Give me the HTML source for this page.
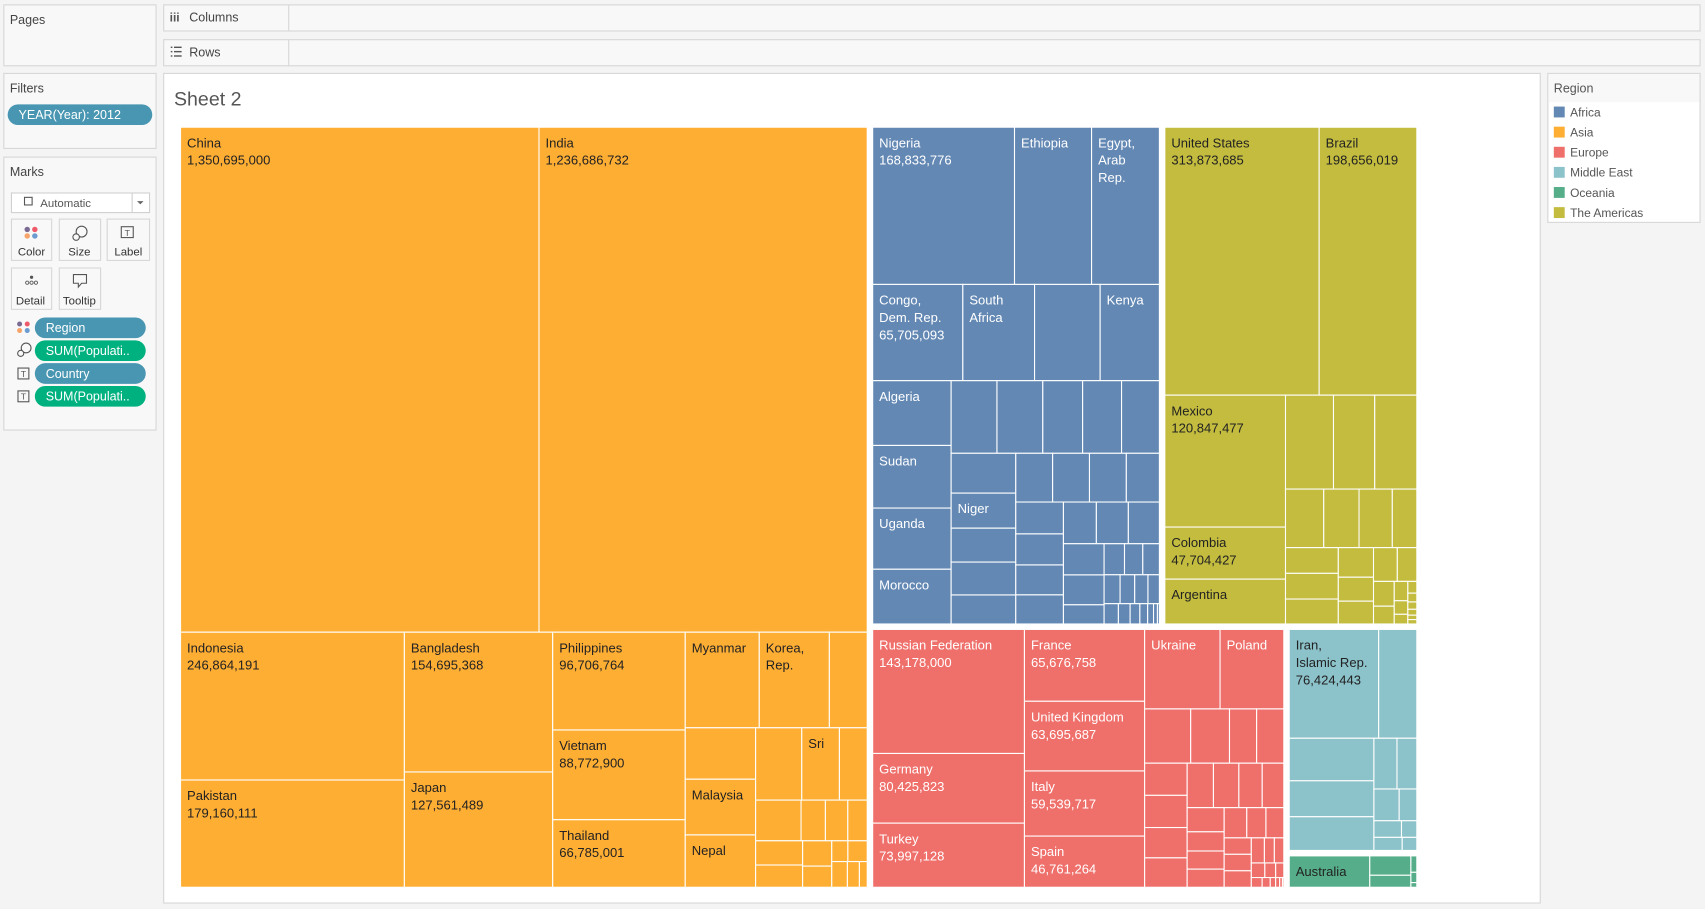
<!DOCTYPE html>
<html><head><meta charset="utf-8">
<style>
html,body{margin:0;padding:0;background:#f4f4f4;}
svg{display:block;font-family:"Liberation Sans","DejaVu Sans",sans-serif;}
</style></head>
<body>
<svg id="root" width="1705" height="909" viewBox="0 0 1568 836" xmlns="http://www.w3.org/2000/svg">
<rect x="0" y="0" width="1568" height="836" fill="#f4f4f4"/>
<g>
<rect x="3.5" y="4.5" width="140" height="56" fill="#f8f8f8" stroke="#d6d6d6"/>
<text x="9" y="22" font-size="11.5" fill="#444">Pages</text>
</g>
<g>
<rect x="150.5" y="4.5" width="1413" height="24" fill="#f8f8f8" stroke="#d6d6d6"/>
<line x1="265.5" y1="4.5" x2="265.5" y2="28.5" stroke="#d6d6d6"/>
<text x="156" y="20" font-size="11" fill="#555" font-weight="bold">iii</text>
<text x="174" y="20" font-size="11.5" fill="#444">Columns</text>
</g>
<g>
<rect x="150.5" y="36.5" width="1413" height="24" fill="#f8f8f8" stroke="#d6d6d6"/>
<line x1="265.5" y1="36.5" x2="265.5" y2="60.5" stroke="#d6d6d6"/>
<g stroke="#555" stroke-width="1.3"><line x1="157" y1="43.5" x2="158.5" y2="43.5"/><line x1="160" y1="43.5" x2="167" y2="43.5"/><line x1="157" y1="47.5" x2="158.5" y2="47.5"/><line x1="160" y1="47.5" x2="167" y2="47.5"/><line x1="157" y1="51.5" x2="158.5" y2="51.5"/><line x1="160" y1="51.5" x2="167" y2="51.5"/></g>
<text x="174" y="52" font-size="11.5" fill="#444">Rows</text>
</g>
<g>
<rect x="3.5" y="67.5" width="140" height="69" fill="#f8f8f8" stroke="#d6d6d6"/>
<text x="9" y="85" font-size="11.5" fill="#444">Filters</text>
<g>
<rect x="7" y="96" width="133" height="19" rx="9.5" fill="#4996b2"/>
<text x="17" y="109.5" font-size="11.5" fill="#fff">YEAR(Year): 2012</text>
</g>
</g>
<g>
<rect x="3.5" y="144.5" width="140" height="251" fill="#f8f8f8" stroke="#d6d6d6"/>
<text x="9" y="162" font-size="11.5" fill="#444">Marks</text>
<g>
<rect x="10.5" y="177.5" width="127" height="18" fill="#fff" stroke="#d0d0d0"/>
<line x1="121.5" y1="177.5" x2="121.5" y2="195.5" stroke="#d0d0d0"/>
<rect x="22.5" y="181.5" width="7" height="7" fill="none" stroke="#555"/>
<text x="37" y="190.5" font-size="10.5" fill="#555">Automatic</text>
<path d="M126 185 L132 185 L129 188 Z" fill="#666"/>
</g>
<g>
<rect x="10.5" y="201.5" width="37" height="38" fill="#f8f8f8" stroke="#d6d6d6"/>
<circle cx="25" cy="211" r="2.5" fill="#7b6b93"/><circle cx="32" cy="211" r="2.5" fill="#ef5a6a"/><circle cx="25" cy="217" r="2.5" fill="#f6a46a"/><circle cx="32" cy="217" r="2.5" fill="#6c9bd0"/>
<text x="29" y="235" font-size="10.5" fill="#333" text-anchor="middle">Color</text>
</g>
<g>
<rect x="54.5" y="201.5" width="38" height="38" fill="#f8f8f8" stroke="#d6d6d6"/>
<circle cx="75" cy="213" r="5" fill="none" stroke="#555"/><circle cx="70" cy="218" r="3" fill="#f8f8f8" stroke="#555"/>
<text x="73" y="235" font-size="10.5" fill="#333" text-anchor="middle">Size</text>
</g>
<g>
<rect x="98.5" y="201.5" width="39" height="38" fill="#f8f8f8" stroke="#d6d6d6"/>
<rect x="111.5" y="208.5" width="11" height="10" fill="none" stroke="#555"/>
<text x="117" y="217" font-size="8" fill="#555" text-anchor="middle">T</text>
<text x="118" y="235" font-size="10.5" fill="#333" text-anchor="middle">Label</text>
</g>
<g>
<rect x="10.5" y="246.5" width="37" height="38" fill="#f8f8f8" stroke="#d6d6d6"/>
<circle cx="29" cy="255" r="1.5" fill="#555"/><circle cx="25" cy="260" r="1.5" fill="none" stroke="#555" stroke-width=".8"/><circle cx="29" cy="260" r="1.5" fill="none" stroke="#555" stroke-width=".8"/><circle cx="33" cy="260" r="1.5" fill="none" stroke="#555" stroke-width=".8"/>
<text x="28" y="280" font-size="10.5" fill="#333" text-anchor="middle">Detail</text>
</g>
<g>
<rect x="54.5" y="246.5" width="38" height="38" fill="#f8f8f8" stroke="#d6d6d6"/>
<path d="M67.5 252.5 H79.5 V260.5 H75 L72 264 L72 260.5 H67.5 Z" fill="none" stroke="#555"/>
<text x="73" y="280" font-size="10.5" fill="#333" text-anchor="middle">Tooltip</text>
</g>
<g>
<circle cx="18" cy="298" r="2.3" fill="#7b6b93"/><circle cx="25" cy="298" r="2.3" fill="#ef5a6a"/><circle cx="18" cy="304" r="2.3" fill="#f6a46a"/><circle cx="25" cy="304" r="2.3" fill="#6c9bd0"/>
<rect x="32" y="292" width="102" height="19" rx="9.5" fill="#4996b2"/>
<text x="42" y="305.5" font-size="11.5" fill="#fff">Region</text>
</g>
<g>
<circle cx="24" cy="320" r="4.5" fill="none" stroke="#555"/><circle cx="19" cy="325" r="2.8" fill="#f8f8f8" stroke="#555"/>
<rect x="32" y="313" width="102" height="19" rx="9.5" fill="#00b180"/>
<text x="42" y="326.5" font-size="11.5" fill="#fff">SUM(Populati..</text>
</g>
<g>
<rect x="16.5" y="338.5" width="10" height="10" fill="none" stroke="#555"/><text x="21.5" y="346.5" font-size="8" fill="#555" text-anchor="middle">T</text>
<rect x="32" y="334" width="102" height="19" rx="9.5" fill="#4996b2"/>
<text x="42" y="347.5" font-size="11.5" fill="#fff">Country</text>
</g>
<g>
<rect x="16.5" y="359.5" width="10" height="10" fill="none" stroke="#555"/><text x="21.5" y="367.5" font-size="8" fill="#555" text-anchor="middle">T</text>
<rect x="32" y="355" width="102" height="19" rx="9.5" fill="#00b180"/>
<text x="42" y="368.5" font-size="11.5" fill="#fff">SUM(Populati..</text>
</g>
</g>
<g>
<rect x="150.5" y="67.5" width="1266" height="763" fill="#fff" stroke="#d6d6d6"/>
<text x="160" y="97" font-size="18" fill="#555">Sheet 2</text>
</g>
<g id="treemap"></g>
<g>
<rect x="1423.5" y="67.5" width="140" height="137" fill="#fff" stroke="#d6d6d6"/>
<rect x="1424" y="68" width="139" height="26" fill="#f8f8f8"/>
<text x="1429" y="85" font-size="11.5" fill="#555">Region</text>
<g id="legend-items"></g>
</g>
</svg>
<script>
const regionNames = ['Africa','Asia','Europe','Middle East','Oceania','The Americas'];
const regionColors = ['#6388b4','#ffae34','#ef6f6a','#8cc2ca','#55ad89','#c3bc3f'];
const regionText = ['#ffffff','#222222','#ffffff','#222222','#222222','#222222'];

const asiaCountries = ['China','India','Indonesia','Pakistan','Bangladesh','Japan','Philippines','Vietnam','Thailand','Myanmar','Korea,|Rep.','Afghanistan','Uzbekistan','Malaysia','Nepal','Korea, Dem. Rep.','Sri','Kazakhstan','Cambodia','Tajikistan','Lao PDR','Kyrgyz Republic','Hong Kong','Turkmenistan','Singapore','Mongolia','Timor-Leste','Bhutan','Macao','Maldives','Brunei'];
const asiaValues = [1350695000,1236686732,246864191,179160111,154695368,127561489,96706764,88772900,66785001,52797319,50004441,27000000,27000000,29239927,27474377,24900000,20328000,15000000,13800000,7400000,6800000,5900000,8500000,7800000,5500000,4600000,2500000,3000000,3000000,2300000,1500000];
const asiaLabels = [2,2,2,2,2,2,2,2,2,1,1,0,0,1,1,0,1,0,0,0,0,0,0,0,0,0,0,0,0,0,0];

const africaCountries = ['Nigeria','Ethiopia','Egypt,|Arab|Rep.','Congo,|Dem. Rep.','South|Africa','Tanzania','Kenya','Algeria','Sudan','Uganda','Morocco','Ghana','Mozambique','Madagascar','Cameroon',"Cote d'Ivoire",'Angola','Niger','Burkina Faso','Malawi','Mali','Zambia','Zimbabwe','Senegal','Chad','Somalia','Guinea','Rwanda','South Sudan','Benin','Tunisia','Burundi','Togo','Sierra Leone','Libya','Eritrea','Liberia','Mauritania','Congo, Rep.','Namibia','Botswana','Lesotho','Gambia','Gabon','Guinea-Bissau','Mauritius','Swaziland','Djibouti','Comoros'];
const africaValues = [168833776,91728849,80721874,65705093,52274945,47800000,43178141,38481705,37195349,36345860,32521143,25200000,25200000,21900000,21400000,20800000,19500000,17157042,16600000,16100000,14200000,13600000,13600000,13600000,12200000,11500000,11200000,10800000,10500000,10400000,10100000,9800000,9600000,9200000,5900000,4800000,4300000,3900000,3500000,3200000,2900000,2500000,2200000,1800000,1500000,1200000,900000,600000,300000];
const africaLabels = [2,1,1,2,1,0,1,1,1,1,1,0,0,0,0,0,0,1,0,0,0,0,0,0,0,0,0,0,0,0,0,0,0,0,0,0,0,0,0,0,0,0,0,0,0,0,0,0,0];

const americasCountries = ['United States','Brazil','Mexico','Colombia','Argentina','Canada','Peru','Venezuela','Chile','Guatemala','Ecuador','Cuba','Bolivia','Haiti','Dominican Republic','Honduras','Paraguay','El Salvador','Nicaragua','Costa Rica','Panama','Uruguay','Jamaica','Trinidad and Tobago','Guyana','Suriname','Bahamas','Belize','Barbados','St. Lucia','Grenada'];
const americasValues = [313873685,198656019,120847477,47704427,41086927,34200000,29400000,30000000,17000000,15700000,14800000,10900000,10300000,10300000,10000000,7900000,6400000,6100000,6100000,5000000,3900000,2800000,2000000,1400000,1000000,800000,600000,500000,400000,300000,300000];
const americasLabels = [2,2,2,2,1,0,0,0,0,0,0,0,0,0,0,0,0,0,0,0,0,0,0,0,0,0,0,0,0,0,0];

const europeCountries = ['Russian Federation','Germany','Turkey','France','United Kingdom','Italy','Spain','Ukraine','Poland','Romania','Netherlands','Belgium','Greece','Portugal','Czech Republic','Hungary','Sweden','Belarus','Austria','Switzerland','Bulgaria','Serbia','Denmark','Finland','Slovak Republic','Norway','Ireland','Croatia','Bosnia and Herzegovina','Moldova','Lithuania','Albania','Latvia','Macedonia','Slovenia','Kosovo','Estonia','Cyprus','Montenegro','Luxembourg','Malta','Iceland','Andorra'];
const europeValues = [143178000,80425823,73997128,65676758,63695687,59539717,46761264,45593300,38534157,19000000,16000000,11200000,11200000,10400000,10400000,9800000,9500000,8900000,8600000,7900000,7300000,6800000,5400000,5100000,5100000,5200000,4400000,4100000,3400000,3400000,3400000,2500000,1900000,1800000,1500000,1200000,900000,800000,600000,400000,300000,200000,100000];
const europeLabels = [2,2,2,2,2,2,2,1,1,0,0,0,0,0,0,0,0,0,0,0,0,0,0,0,0,0,0,0,0,0,0,0,0,0,0,0,0,0,0,0,0,0,0];

const middleEastCountries = ['Iran,|Islamic Rep.','Iraq','Saudi Arabia','Yemen','Syria','United Arab Emirates','Israel','Jordan','Lebanon','Kuwait','Qatar','Oman','Bahrain'];
const middleEastValues = [76424443,32600000,28300000,23900000,22400000,9200000,7900000,6300000,4400000,3600000,2000000,2900000,1500000];
const middleEastLabels = [2,0,0,0,0,0,0,0,0,0,0,0,0];

const oceaniaCountries = ['Australia','Papua New Guinea','New Zealand','Fiji','Solomon Islands','Vanuatu'];
const oceaniaValues = [22728254,7167010,4433000,874742,549598,247262];
const oceaniaLabels = [1,0,0,0,0,0];

const L='L';
const asiaTree=['R',1,'v',['h',L,L],['h',['v',L,L],['v',L,L],['v',L,L,L],['v',['h',L,L,L],['h',['v',L,L,L],['v',['h',L,L,L],['v',['h',L,L,L,L],['h',['v',L,L],['v',L,L],['v',['h',L,L],['h',L,L,L]]]]]]]]];
const africaTree=['R',0,'v',['h',L,L,L],['h',L,L,L,L],['h',['v',L,L,L,L],['v',['h',L,L,L,L,L],['h',['v',L,L,L,L,L],['v',['h',L,L,L,L],['h',['v',L,L,L,L],['v',['h',L,L,L],['h',['v',L,L,L],['v',['h',L,L,L],['h',L,L,L,L],['h',L,L,L,L,L,L,L]]]]]]]]]];
const americasTree=['R',5,'v',['h',L,L],['h',['v',L,L,L],['v',['h',L,L,L],['h',L,L,L,L],['h',['v',L,L,L],['v',L,L,L],['v',['h',L,L],['h',['v',L,L],['v',L,L,L],['v',L,L,L,L,L,L]]]]]]];
const europeTree=['R',2,'h',['v',L,L,L],['v',L,L,L,L],['v',['h',L,L],['h',L,L,L,L],['h',['v',L,L,L,L],['v',['h',L,L,L,L],['h',['v',L,L,L,L],['v',['h',L,L,L],['h',['v',L,L,L],['v',['h',L,L,L],['h',L,L,L],['h',L,L,L,L,L,L]]]]]]]]];
const middleEastTree=['R',3,'v',['h',L,L],['h',['v',L,L,L],['v',['h',L,L],['h',L,L],['h',L,L],['h',L,L]]]];
const oceaniaTree=['R',4,'h',L,['v',L,L],['v',L,L,L]];

const regionData={
 0:[africaCountries,africaValues,africaLabels],
 1:[asiaCountries,asiaValues,asiaLabels],
 2:[europeCountries,europeValues,europeLabels],
 3:[middleEastCountries,middleEastValues,middleEastLabels],
 4:[oceaniaCountries,oceaniaValues,oceaniaLabels],
 5:[americasCountries,americasValues,americasLabels]
};
const topTree=['h',asiaTree,['v',['h',africaTree,americasTree],['h',europeTree,['v',middleEastTree,oceaniaTree]]]];

function build(t,reg,ctr){
  if(t===L){const d=regionData[reg];const i=ctr.i++;return {leaf:true,reg:reg,name:String(d[0][i]||'other'),val:d[1][i]||0,lab:d[2][i]||0};}
  let dir,kids,isR=false;
  if(t[0]==='R'){reg=t[1];dir=t[2];kids=t.slice(3);isR=true;ctr={i:0};}
  else{dir=t[0];kids=t.slice(1);}
  const c=kids.map(k=>build(k,reg,ctr));
  return {leaf:false,dir:dir,kids:c,isRegion:isR,val:c.reduce((s,k)=>s+k.val,0)};
}
const rootNode=build(topTree,null,{i:0});

const NS='http://www.w3.org/2000/svg';
const tm=document.getElementById('treemap');
const PAD=2.5;
function layout(n,x,y,w,h){
  if(n.leaf){drawLeaf(n,x,y,w,h);return;}
  if(n.isRegion){x+=PAD;y+=PAD;w-=2*PAD;h-=2*PAD;}
  let off=0;
  n.kids.forEach(k=>{
    const f=n.val>0?k.val/n.val:0;
    if(n.dir==='h'){layout(k,x+off,y,w*f,h);off+=w*f;}
    else{layout(k,x,y+off,w,h*f);off+=h*f;}
  });
}
function drawLeaf(n,x,y,w,h){
  const g=document.createElementNS(NS,'g');
  
  
  const r=document.createElementNS(NS,'rect');
  r.setAttribute('x',x);r.setAttribute('y',y);r.setAttribute('width',Math.max(0,w));r.setAttribute('height',Math.max(0,h));
  r.setAttribute('fill',regionColors[n.reg]);r.setAttribute('stroke','#fff');r.setAttribute('stroke-width','1');
  g.appendChild(r);
  if(n.lab>0){
    const lines=n.name.split('|');
    if(n.lab===2)lines.push(n.val.toLocaleString('en-US'));
    lines.forEach((s,i)=>{
      const t=document.createElementNS(NS,'text');
      t.setAttribute('x',x+6);t.setAttribute('y',y+18.5+i*16);
      t.setAttribute('font-size','12');t.setAttribute('fill',regionText[n.reg]);
      t.textContent=s;g.appendChild(t);
    });
  }
  tm.appendChild(g);
}
layout(rootNode,163.5,114.5,1142,704);

const lg=document.getElementById('legend-items');
regionNames.forEach((nm,i)=>{
  const g=document.createElementNS(NS,'g');
  
  
  const y=98+i*18.5;
  const r=document.createElementNS(NS,'rect');
  r.setAttribute('x',1429);r.setAttribute('y',y);r.setAttribute('width',10);r.setAttribute('height',10);r.setAttribute('fill',regionColors[i]);
  const t=document.createElementNS(NS,'text');
  t.setAttribute('x',1444);t.setAttribute('y',y+9);t.setAttribute('font-size','11');t.setAttribute('fill','#555');t.textContent=nm;
  g.appendChild(r);g.appendChild(t);lg.appendChild(g);
});
</script>
</body></html>
